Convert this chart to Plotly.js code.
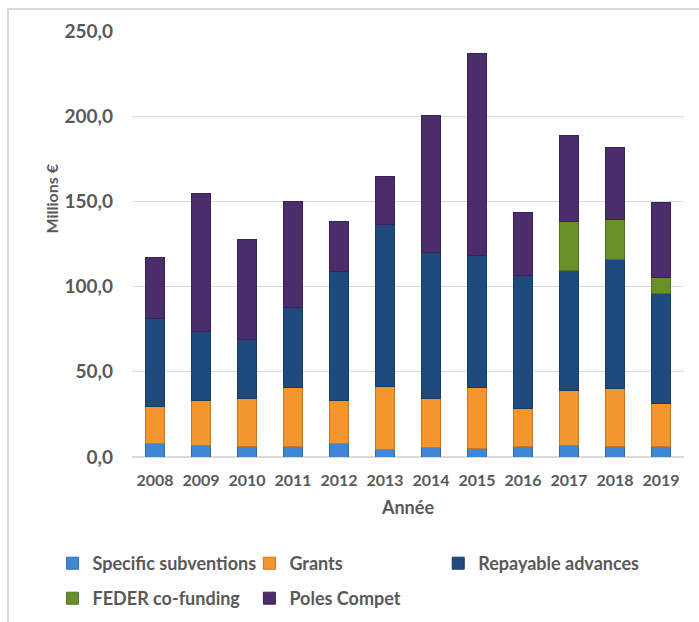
<!DOCTYPE html>
<html>
<head>
<meta charset="utf-8">
<script src="https://cdn.plot.ly/plotly-3.0.1.min.js"></script>
<style>
html,body{margin:0;padding:0;background:#fff;overflow:hidden;}
#chart{width:699px;height:622px;}
#frame{position:absolute;left:7px;top:8px;width:800px;height:800px;border-left:2px solid #d9d9d9;border-top:2px solid #d9d9d9;pointer-events:none;}
</style>
</head>
<body>
<div id="chart"></div>
<div id="frame"></div>
<script>
const years = ['2008','2009','2010','2011','2012','2013','2014','2015','2016','2017','2018','2019'];
const specificSubventions = [8.2, 6.6, 5.9, 5.9, 7.8, 4.3, 5.3, 4.7, 5.9, 6.6, 5.9, 5.9];
const grants = [21.6, 26.7, 28.2, 34.7, 25.5, 37.2, 28.8, 35.9, 22.3, 32.4, 34.1, 25.5];
const repayableAdvances = [51.2, 40.4, 35.1, 47.4, 75.7, 95.0, 85.9, 77.8, 78.4, 70.2, 76.1, 64.7];
const federCofunding = [0, 0, 0, 0, 0, 0, 0, 0, 0, 28.8, 23.5, 9.2];
const polesCompet = [35.9, 81.0, 58.4, 61.8, 29.4, 28.0, 80.6, 118.5, 36.9, 50.4, 42.0, 44.1];
const yTicks = [0, 50, 100, 150, 200, 250];
const yTickLabels = ['0,0', '50,0', '100,0', '150,0', '200,0', '250,0'];

const font = 'Lato, "Open Sans", "Noto Sans", sans-serif';
const gray = '#595959';

function bar(name, y, color, line, legend) {
  return {type: 'bar', name: name, x: years, y: y, legend: legend,
    marker: {color: color, line: {color: line, width: 1}},
    hoverinfo: 'x+y+name'};
}

const data = [
  bar('Specific subventions', specificSubventions, '#3f86d4', '#2e6aad', 'legend'),
  bar('Grants', grants, '#f5952e', '#c87420', 'legend2'),
  bar('Repayable advances', repayableAdvances, '#1f4a7e', '#173a63', 'legend3'),
  bar('FEDER co-funding', federCofunding, '#698f2b', '#52711f', 'legend4'),
  bar('Poles Compet', polesCompet, '#4b2d6c', '#3a2155', 'legend5')
];

const L = 131.5, W = 552.5, T = 31, H = 426;
const legendFont = {family: font, size: 18, color: gray, weight: 'bold'};
function legendAt(leftPx, topPx) {
  return {orientation: 'h', x: (leftPx - L) / W, xanchor: 'left',
    y: -(topPx - (T + H)) / H, yanchor: 'top', font: legendFont,
    bgcolor: 'rgba(0,0,0,0)'};
}

const layout = {
  width: 699, height: 622,
  margin: {l: L, r: 699 - L - W, t: T, b: 622 - T - H, autoexpand: false},
  paper_bgcolor: '#fff', plot_bgcolor: '#fff',
  barmode: 'stack', bargap: 0.59,
  font: {family: font, color: gray},
  showlegend: true,
  legend: legendAt(52, 545),
  legend2: legendAt(249, 545),
  legend3: legendAt(438, 545),
  legend4: legendAt(52, 580),
  legend5: legendAt(249, 580),
  xaxis: {type: 'category', showgrid: false, zeroline: false, showline: false, ticks: '',
    tickfont: {family: font, size: 16, color: gray, weight: 'bold'}, ticklabelstandoff: 12,
    title: {text: 'Année', font: {family: font, size: 18, color: gray, weight: 'bold'}, standoff: 13}},
  yaxis: {range: [0, 250], tickvals: yTicks, ticktext: yTickLabels, showgrid: true,
    gridcolor: '#d9d9d9', gridwidth: 1.3, zeroline: true, zerolinecolor: '#d9d9d9', zerolinewidth: 1.3,
    showline: false, ticks: '', ticklabelstandoff: 18,
    tickfont: {family: font, size: 19, color: gray, weight: 'bold'}},
  annotations: [{text: 'Millions €', textangle: -90, xref: 'paper', yref: 'paper',
    x: (50 - L) / W, y: (T + H - 199) / H, xanchor: 'center', yanchor: 'middle', showarrow: false,
    font: {family: font, size: 16, color: gray, weight: 'bold'}}]
};

Plotly.newPlot('chart', data, layout, {displayModeBar: false, staticPlot: true});
</script>
</body>
</html>
